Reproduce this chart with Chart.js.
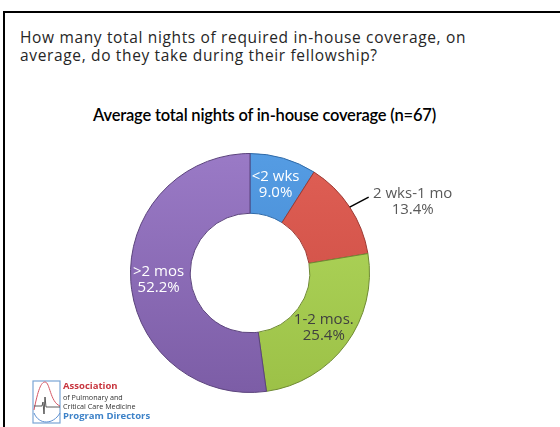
<!DOCTYPE html>
<html>
<head>
<meta charset="utf-8">
<script src="https://cdn.jsdelivr.net/npm/chart.js@4"></script>
<style>
  html, body { margin: 0; padding: 0; background: #fff; }
  body { width: 560px; height: 427px; position: relative; overflow: hidden; font-family: "Open Sans", Lato, sans-serif; }
  #frame { position: absolute; left: 3px; top: 11px; width: 560px; height: 420px; border-left: 2px solid #000; border-top: 2px solid #000; }
  #question { position: absolute; left: 20px; top: 28px; font-size: 15.5px; line-height: 18px; color: #262626; letter-spacing: 0.65px; }
  #chartTitle { position: absolute; left: 0; width: 529px; top: 105px; text-align: center; font-family: Lato, sans-serif; font-size: 16.5px; color: #000; font-weight: 600; letter-spacing: -0.2px; }
  #wrap { position: absolute; left: 0; top: 0; width: 560px; height: 427px; }
  #logo { position: absolute; left: 32px; top: 380px; width: 140px; height: 46px; }
  #logo .t { position: absolute; left: 31px; white-space: nowrap; font-family: "Open Sans", sans-serif; }
</style>
</head>
<body>
<div id="frame"></div>
<div id="question">How many total nights of required in-house coverage, on<br>average, do they take during their fellowship?</div>
<div id="chartTitle">Average total nights of in-house coverage (n=67)</div>
<div id="wrap"><canvas id="donut" width="560" height="427"></canvas></div>
<div id="logo">
  <svg width="30" height="45" style="position:absolute;left:0;top:0">
    <rect x="1" y="1" width="27" height="42" fill="none" stroke="#7aa6d6" stroke-width="1.2"/>
    <path d="M2 30 C6 10 9 2 13 2 C18 2 18 22 28 26" fill="none" stroke="#d45563" stroke-width="1"/>
    <path d="M2 26 L10 26 L11 22 L12 34 L13 17 L14 27 L28 27" fill="none" stroke="#333" stroke-width="0.8"/>
    <path d="M2 33 C7 45 21 45 28 33" fill="none" stroke="#5b8fd0" stroke-width="1"/>
  </svg>
  <div class="t" style="top:-1px;font-size:9.5px;font-weight:700;color:#c8363f;">Association</div>
  <div class="t" style="top:12px;font-size:7.2px;color:#333;">of Pulmonary and</div>
  <div class="t" style="top:21px;font-size:7.2px;color:#333;">Critical Care Medicine</div>
  <div class="t" style="top:29px;font-size:9.5px;font-weight:700;color:#3d82c8;">Program Directors</div>
</div>
<script>
var categories = ["<2 wks", "2 wks-1 mo", "1-2 mos.", ">2 mos"];
var percents = [9.0, 13.4, 25.4, 52.2];

// light (top) and dark (bottom) shade for each slice
var topColors = ["#559ce3", "#df5f55", "#b2d95e", "#9a7ac6"];
var bottomColors = ["#3f83cb", "#c94a40", "#9cc147", "#7c5da6"];
var edgeColors = ["#2f6aa8", "#9c3a33", "#6f8a33", "#5b437c"];
var labelColors = ["#ffffff", "#595959", "#404040", "#ffffff"];
// which slices get their label outside with a leader line
var outside = [false, true, false, false];

function shade(ctx) {
  var chart = ctx.chart;
  var area = chart.chartArea;
  if (!area) return topColors[ctx.dataIndex];
  var g = chart.ctx.createLinearGradient(0, area.top, 0, area.bottom);
  g.addColorStop(0, topColors[ctx.dataIndex]);
  g.addColorStop(1, bottomColors[ctx.dataIndex]);
  return g;
}

var sliceLabels = {
  id: "sliceLabels",
  afterDatasetsDraw: function (chart) {
    var c = chart.ctx;
    var meta = chart.getDatasetMeta(0);
    c.save();
    c.font = "15px 'Open Sans', Lato, sans-serif";
    c.textAlign = "center";
    c.textBaseline = "middle";
    meta.data.forEach(function (arc, i) {
      var mid = (arc.startAngle + arc.endAngle) / 2;
      var text2 = percents[i].toFixed(1) + "%";
      c.fillStyle = labelColors[i];
      if (outside[i]) {
        var x0 = arc.x + Math.cos(mid) * arc.outerRadius;
        var y0 = arc.y + Math.sin(mid) * arc.outerRadius;
        var x1 = x0 + 19, y1 = y0 - 10;
        c.strokeStyle = "#000";
        c.lineWidth = 1.5;
        c.beginPath();
        c.moveTo(x0, y0);
        c.lineTo(x1, y1);
        c.stroke();
        var tx = x1 + 44;
        c.fillText(categories[i], tx, y1 - 3);
        c.fillText(text2, tx, y1 + 13);
      } else {
        var r = (arc.innerRadius + arc.outerRadius) / 2 + 2;
        var x = arc.x + Math.cos(mid) * r;
        var y = arc.y + Math.sin(mid) * r;
        c.fillText(categories[i], x, y - 8);
        c.fillText(text2, x, y + 8);
      }
    });
    c.restore();
  }
};

new Chart(document.getElementById("donut"), {
  type: "doughnut",
  data: {
    labels: categories,
    datasets: [{
      data: percents,
      backgroundColor: shade,
      borderColor: edgeColors,
      borderWidth: 1
    }]
  },
  options: {
    responsive: false,
    animation: false,
    cutout: "50%",
    layout: { padding: { left: 130, right: 190, top: 153, bottom: 34 } },
    plugins: {
      legend: { display: false },
      tooltip: { enabled: false }
    }
  },
  plugins: [sliceLabels]
});
</script>
</body>
</html>
